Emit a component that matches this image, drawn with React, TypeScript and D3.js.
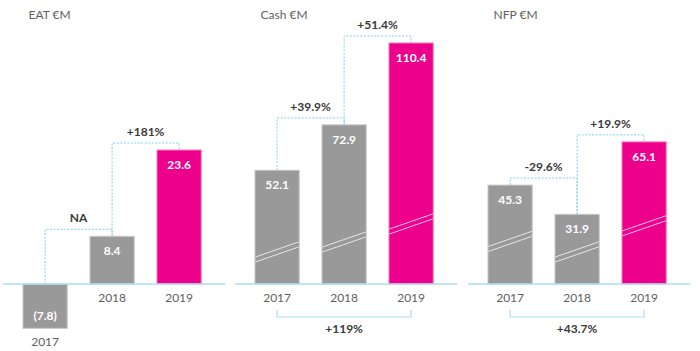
import React from "react";
import * as d3 from "d3";

const years = ["2017", "2018", "2019"];

const eatValues = [-7.8, 8.4, 23.6];
const cashValues = [52.1, 72.9, 110.4];
const nfpValues = [45.3, 31.9, 65.1];

const eatChanges = ["NA", "+181%"];
const cashChanges = ["+39.9%", "+51.4%"];
const nfpChanges = ["-29.6%", "+19.9%"];

const cashTotal = "+119%";
const nfpTotal = "+43.7%";

const titles = ["EAT €M", "Cash €M", "NFP €M"];

const FONT = "Lato, 'Open Sans', sans-serif";
const BASE = 284;
const GRAY = "#999999";
const GRAY_STROKE = "#c6c6c6";
const PINK = "#EC008C";
const PINK_STROKE = "#f27cbc";
const AXIS = "#a9dff2";
const CONNECT = "#7fd0ee";

const panels = [
  { title: titles[0], values: eatValues, changes: eatChanges, total: null as string | null, x0: 11.6, maxV: 23.6, maxPx: 134, hatch: null as number | null },
  { title: titles[1], values: cashValues, changes: cashChanges, total: cashTotal, x0: 243.6, maxV: 110.4, maxPx: 241, hatch: 0.22 },
  { title: titles[2], values: nfpValues, changes: nfpChanges, total: nfpTotal, x0: 476.6, maxV: 110.4, maxPx: 241, hatch: 0.36 },
];

function fmt(v: number) {
  return v < 0 ? `(${Math.abs(v).toFixed(1)})` : v.toFixed(1);
}

function Panel({ p }: { p: (typeof panels)[number] }) {
  const x = d3
    .scaleBand<string>()
    .domain(years)
    .range([p.x0, p.x0 + 201])
    .paddingInner(0.34)
    .paddingOuter(0.17);
  const y = d3.scaleLinear().domain([0, p.maxV]).range([BASE, BASE - p.maxPx]);
  const bw = x.bandwidth();
  const cx = (i: number) => (x(years[i]) as number) + bw / 2;
  const topOf = (i: number) => y(Math.max(0, p.values[i]));

  return (
    <g>
      <text x={p.x0 + 17} y={19} fontSize={12} fill="#606060" fontFamily={FONT}>
        {p.title}
      </text>
      {/* connectors */}
      {p.changes.map((c, k) => {
        const a = k, b = k + 1;
        const level = Math.min(topOf(a), topOf(b)) - 7;
        const path = d3.path();
        path.moveTo(cx(a), topOf(a));
        path.lineTo(cx(a), level);
        path.lineTo(cx(b), level);
        path.lineTo(cx(b), topOf(b));
        return (
          <g key={"c" + k}>
            <path d={path.toString()} fill="none" stroke={CONNECT} strokeWidth={1} strokeDasharray="2,1.5" />
            <text
              x={(cx(a) + cx(b)) / 2}
              y={level - 7}
              textAnchor="middle"
              fontSize={12}
              fontWeight={700}
              fill="#3a3a3a"
              fontFamily={FONT}
            >
              {c}
            </text>
          </g>
        );
      })}
      {/* bars */}
      {p.values.map((v, i) => {
        const x0 = x(years[i]) as number;
        const yt = y(Math.max(0, v));
        const yb = y(Math.min(0, v));
        const h = yb - yt;
        const pink = i === 2;
        const hatchY = p.hatch != null ? BASE - p.hatch * h : null;
        return (
          <g key={"b" + i}>
            <rect
              x={x0}
              y={yt}
              width={bw}
              height={h}
              fill={pink ? PINK : GRAY}
              stroke={pink ? PINK_STROKE : GRAY_STROKE}
              strokeWidth={1}
            />
            {hatchY != null &&
              [0, 5].map((o) => (
                <line
                  key={o}
                  x1={x0 + 0.5}
                  x2={x0 + bw - 0.5}
                  y1={hatchY + o - 2}
                  y2={hatchY + o - 17}
                  stroke="#ffffff"
                  strokeOpacity={0.75}
                  strokeWidth={1}
                />
              ))}
            <text
              x={cx(i)}
              y={v < 0 ? yb - 8 : yt + 19}
              textAnchor="middle"
              fontSize={12}
              fontWeight={700}
              fill="#ffffff"
              fontFamily={FONT}
            >
              {fmt(v)}
            </text>
            <text
              x={cx(i)}
              y={(v < 0 ? yb : BASE) + 18}
              textAnchor="middle"
              fontSize={12}
              fill="#606060"
              fontFamily={FONT}
            >
              {years[i]}
            </text>
          </g>
        );
      })}
      {/* axis line */}
      <line x1={p.x0 - 8.5} x2={p.x0 + 213.5} y1={BASE} y2={BASE} stroke={AXIS} strokeWidth={1.5} />
      {/* total bracket */}
      {p.total && (
        <g>
          <path
            d={`M${cx(0)},310 V317 H${cx(2)} V310`}
            fill="none"
            stroke={AXIS}
            strokeWidth={1.2}
          />
          <text
            x={(cx(0) + cx(2)) / 2}
            y={333}
            textAnchor="middle"
            fontSize={12}
            fontWeight={700}
            fill="#3a3a3a"
            fontFamily={FONT}
          >
            {p.total}
          </text>
        </g>
      )}
    </g>
  );
}

export default function App() {
  return (
    <svg
      width={700}
      height={351}
      style={{ position: "absolute", left: 0, top: 0, background: "#fff" }}
    >
      {panels.map((p, i) => (
        <Panel key={i} p={p} />
      ))}
    </svg>
  );
}
